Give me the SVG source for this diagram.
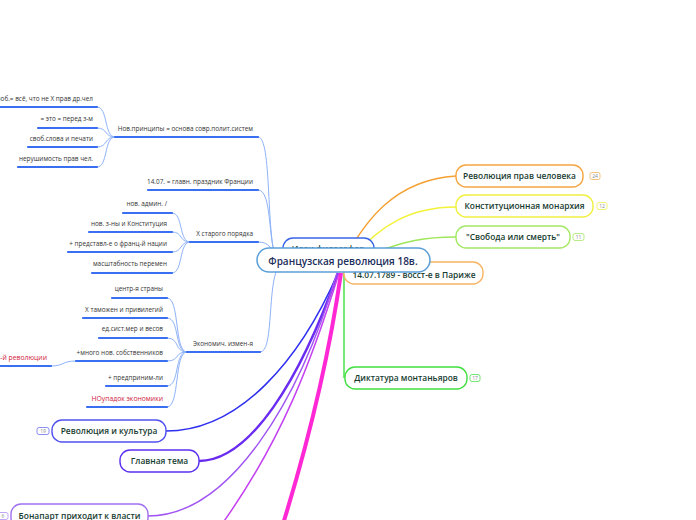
<svg xmlns="http://www.w3.org/2000/svg" width="696" height="520" viewBox="0 0 696 520">
<style>
.t{font-family:"Open Sans","DejaVu Sans",sans-serif;font-size:6.4px;fill:#333;}
.r{fill:#d0203c;font-size:6.8px;}
.ul{stroke:#3a6ff2;stroke-width:2.2;fill:none;stroke-linecap:round;}
.lc{stroke:#8eb2f8;stroke-width:1;fill:none;}
.n{fill:#fff;stroke-width:1.4;}
.nt{font-family:"Open Sans","DejaVu Sans",sans-serif;font-size:8.4px;font-weight:600;fill:#173d30;text-anchor:middle;}
.b{fill:#fff;stroke-width:0.8;}
.bt{font-family:"Open Sans","DejaVu Sans",sans-serif;font-size:5px;fill:#888;text-anchor:middle;}
</style>
<rect width="696" height="520" fill="#fff"/>
<g id="connectors">
<path class="lc" d="M258 137 C272 137 266 235 276 258"/>
<path class="lc" d="M258 190 C272 190 268 240 276 258"/>
<path class="lc" d="M258 242 C270 242 272 250 276 258"/>
<path class="lc" d="M260 352 C273 352 268 295 276 272"/>
<path class="lc" d="M97 107 C108 107 104 137 115 137"/>
<path class="lc" d="M97 128 C108 128 104 137 115 137"/>
<path class="lc" d="M97 147 C108 147 104 137 115 137"/>
<path class="lc" d="M97 167 C108 167 104 137 115 137"/>
<path class="lc" d="M172 213 C183 213 179 242 190 242"/>
<path class="lc" d="M172 232 C183 232 179 242 190 242"/>
<path class="lc" d="M172 252 C183 252 179 242 190 242"/>
<path class="lc" d="M172 273 C183 273 179 242 190 242"/>
<path class="lc" d="M167 298 C180 298 174 352 187 352"/>
<path class="lc" d="M167 318 C180 318 174 352 187 352"/>
<path class="lc" d="M167 338 C180 338 174 352 187 352"/>
<path class="lc" d="M167 361 C180 361 174 352 187 352"/>
<path class="lc" d="M167 386 C180 386 174 352 187 352"/>
<path class="lc" d="M167 407 C180 407 174 352 187 352"/>
<path class="lc" d="M51 366 C64 366 62 361 76 361"/>
<path class="ul" d="M0 107 H97 M38 128 H97 M28 147 H97 M18 167 H97"/>
<path class="ul" d="M115 137 H258 M148 190 H258 M190 242 H258 M187 352 H260"/>
<path class="ul" d="M123 213 H172 M89 232 H172 M68 252 H172 M92 273 H172"/>
<path class="ul" d="M112 298 H167 M83 318 H167 M99 338 H167 M76 361 H167 M106 386 H167 M87 407 H167 M0 366 H51"/>
<path d="M343 262 C365 220 395 180 456 176" stroke="#f5a030" stroke-width="1.4" fill="none"/>
<path d="M348 262 C380 225 410 207 456 207" stroke="#f2f23a" stroke-width="1.4" fill="none"/>
<path d="M343 262 C400 245 410 237 456 237" stroke="#9fe65a" stroke-width="1.4" fill="none"/>
<path d="M344 270 V378" stroke="#3ce03c" stroke-width="1.4" fill="none"/>
<path d="M338 273 C300 360 240 431 166 431" stroke="#2f2ff0" stroke-width="1.6" fill="none"/>
<path d="M338 273 C300 380 250 461 199 461" stroke="#6a2cf0" stroke-width="2.4" fill="none"/>
<path d="M337 273 C300 400 230 516 148 516" stroke="#a055f2" stroke-width="1.4" fill="none"/>
<path d="M339 273 C312 360 282 440 222 524" stroke="#c440f0" stroke-width="1.5" fill="none"/>
<path d="M341 273 C330 350 312 430 283 524" stroke="#ff28d4" stroke-width="4" fill="none"/>
</g>
<g id="left-texts">
<text class="t" x="93" y="101" text-anchor="end">своб.=  всё, что не X прав др.чел</text>
<text class="t" x="93" y="121" text-anchor="end">= это = перед з-м</text>
<text class="t" x="93" y="141" text-anchor="end">своб.слова и печати</text>
<text class="t" x="93" y="161" text-anchor="end">нерушимость прав чел.</text>
<text class="t" x="253" y="131" text-anchor="end">Нов.принципы = основа совр.полит.систем</text>
<text class="t" x="253" y="184" text-anchor="end">14.07. = главн. праздник Франции</text>
<text class="t" x="167" y="206" text-anchor="end">нов. админ. /</text>
<text class="t" x="167" y="226" text-anchor="end">нов. з-ны и Конституция</text>
<text class="t" x="167" y="246" text-anchor="end">+ представл-е о франц-й нации</text>
<text class="t" x="167" y="266" text-anchor="end">масштабность перемен</text>
<text class="t" x="253" y="236" text-anchor="end">X старого порядка</text>
<text class="t" x="163" y="291" text-anchor="end">центр-я страны</text>
<text class="t" x="163" y="312" text-anchor="end">X таможен и привилегий</text>
<text class="t" x="163" y="331" text-anchor="end">ед.сист.мер и весов</text>
<text class="t" x="163" y="355" text-anchor="end">+много нов. собственников</text>
<text class="t" x="163" y="380" text-anchor="end">+ предприним-ли</text>
<text class="t r" x="163" y="401" text-anchor="end">НОупадок экономики</text>
<text class="t" x="253" y="346" text-anchor="end">Экономич. измен-я</text>
<text class="t r" x="47" y="360" text-anchor="end">и-й революции</text>
</g>
<g id="node-ideas">
<rect class="n" x="283" y="238" width="91" height="24" rx="10" stroke="#3a64e6"/>
<text class="nt" x="328" y="252">Идеи философов</text>
</g>
<g id="node-1407">
<rect class="n" x="344" y="262" width="139" height="22" rx="10" stroke="#f6b464"/>
<text class="nt" x="414" y="278">14.07.1789 - восст-е в Париже</text>
</g>
<g id="node-center">
<rect x="257" y="248" width="173" height="24" rx="12" fill="#fff" stroke="#5b9fd8" stroke-width="1.5"/>
<text x="343" y="264.5" text-anchor="middle" font-family="Open Sans, DejaVu Sans, sans-serif" font-size="10" font-weight="600" fill="#1b2d5a">Французская революция 18в.</text>
</g>
<g id="node-prava">
<rect class="n" x="456" y="165" width="127" height="22" rx="10" stroke="#f5a640"/>
<text class="nt" x="519.5" y="179">Революция прав человека</text>
<rect class="b" x="590" y="172.5" width="10" height="7" rx="2" stroke="#f5b060"/>
<text class="bt" x="595" y="178">24</text>
</g>
<g id="node-monarchy">
<rect class="n" x="456" y="195" width="137" height="22" rx="10" stroke="#f0f040"/>
<text class="nt" x="524.5" y="209">Конституционная  монархия</text>
<rect class="b" x="597" y="202.5" width="10" height="7" rx="2" stroke="#eeee50"/>
<text class="bt" x="602" y="208">12</text>
</g>
<g id="node-svoboda">
<rect class="n" x="456" y="226" width="114" height="22" rx="10" stroke="#a4e864"/>
<text class="nt" x="513" y="240">"Свобода или смерть"</text>
<rect class="b" x="573" y="233.5" width="11" height="7" rx="2" stroke="#a4e864"/>
<text class="bt" x="578.5" y="239">11</text>
</g>
<g id="node-dictatura">
<rect class="n" x="345" y="367" width="122" height="22" rx="10" stroke="#40e040"/>
<text class="nt" x="406" y="381">Диктатура монтаньяров</text>
<rect class="b" x="470" y="374.5" width="10" height="7" rx="2" stroke="#50e050"/>
<text class="bt" x="475" y="380">17</text>
</g>
<g id="node-culture">
<rect class="n" x="52" y="420" width="114" height="22" rx="10" stroke="#5050f0"/>
<text class="nt" x="109" y="434">Революция и культура</text>
<rect class="b" x="37" y="427.5" width="12" height="7" rx="2" stroke="#7070f0"/>
<text class="bt" x="43" y="433">19</text>
</g>
<g id="node-main">
<rect class="n" x="120" y="450" width="79" height="22" rx="10" stroke="#5a30f0"/>
<text class="nt" x="159.5" y="464">Главная тема</text>
</g>
<g id="node-bonaparte">
<rect class="n" x="11" y="504" width="137" height="24" rx="10" stroke="#a070f0"/>
<text class="nt" x="79.5" y="519">Бонапарт приходит к власти</text>
<rect class="b" x="-3" y="512.5" width="11" height="7" rx="2" stroke="#b090f0"/>
<text class="bt" x="3" y="518">6</text>
</g>
</svg>
